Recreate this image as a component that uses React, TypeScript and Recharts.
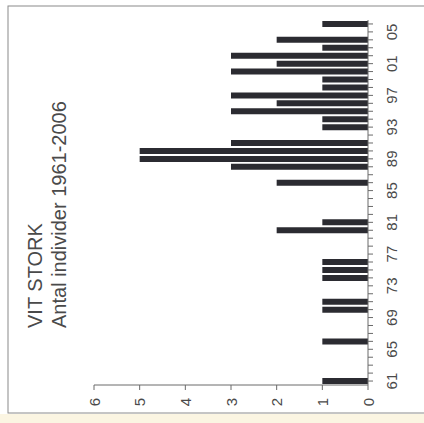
import React from 'react';
import { BarChart, Bar, XAxis, YAxis } from 'recharts';

const years = [
  1961, 1962, 1963, 1964, 1965, 1966, 1967, 1968, 1969, 1970,
  1971, 1972, 1973, 1974, 1975, 1976, 1977, 1978, 1979, 1980,
  1981, 1982, 1983, 1984, 1985, 1986, 1987, 1988, 1989, 1990,
  1991, 1992, 1993, 1994, 1995, 1996, 1997, 1998, 1999, 2000,
  2001, 2002, 2003, 2004, 2005, 2006,
];
const counts = [
  1, 0, 0, 0, 0, 1, 0, 0, 0, 1,
  1, 0, 0, 1, 1, 1, 0, 0, 0, 2,
  1, 0, 0, 0, 0, 2, 0, 3, 5, 5,
  3, 0, 1, 1, 3, 2, 3, 1, 1, 3,
  2, 3, 1, 2, 0, 1,
];
const labeledYears = [1961, 1965, 1969, 1973, 1977, 1981, 1985, 1989, 1993, 1997, 2001, 2005];
const yearTickLabels = ['61', '65', '69', '73', '77', '81', '85', '89', '93', '97', '01', '05'];
const valueTicks = [0, 1, 2, 3, 4, 5, 6];
const titleLine1 = 'VIT STORK';
const titleLine2 = 'Antal individer 1961-2006';

const data = years.map((y, i) => ({ year: y, count: counts[i] }));

const FONT = '"Liberation Sans", Arial, sans-serif';
const TEXT = '#4a4a4a';
const AXIS = '#6a6a6a';

const ValueTick = (props: any) => {
  const { x, y, payload } = props;
  return (
    <text
      transform={`translate(${x},${y + 10}) rotate(-90)`}
      textAnchor="middle"
      dominantBaseline="central"
      fontSize={15}
      fill={TEXT}
      fontFamily={FONT}
    >
      {payload.value}
    </text>
  );
};

const YearTick = (props: any) => {
  const { x, y, payload } = props;
  const idx = labeledYears.indexOf(Number(payload.value));
  if (idx < 0) return <g />;
  return (
    <text
      transform={`translate(${x + 16},${y}) rotate(-90)`}
      textAnchor="middle"
      dominantBaseline="central"
      fontSize={15}
      fill={TEXT}
      fontFamily={FONT}
    >
      {yearTickLabels[idx]}
    </text>
  );
};

export default function App() {
  return (
    <div style={{ position: 'absolute', left: 0, top: 0, width: 424, height: 423, background: '#ffffff', overflow: 'hidden' }}>
      <svg width={424} height={423} style={{ position: 'absolute', left: 0, top: 0 }}>
        <rect x={0} y={414} width={424} height={9} fill="#fbf5e2" />
        <rect x={8} y={6} width={430} height={407} fill="#ffffff" stroke="#8a8a8a" strokeWidth={1} />
      </svg>
      <div style={{ position: 'absolute', left: 0, top: 0 }}>
        <BarChart
          width={424}
          height={423}
          data={data}
          layout="vertical"
          margin={{ top: 20, right: 16, bottom: 8, left: 94 }}
          barSize={6}
        >
          <XAxis
            type="number"
            domain={[0, 6]}
            ticks={valueTicks}
            reversed
            interval={0}
            height={30}
            tickSize={5}
            stroke={AXIS}
            tick={<ValueTick />}
          />
          <YAxis
            type="category"
            dataKey="year"
            orientation="right"
            reversed
            interval={0}
            width={40}
            tickSize={5}
            stroke={AXIS}
            tick={<YearTick />}
          />
          <Bar dataKey="count" fill="#2b2b31" isAnimationActive={false} />
        </BarChart>
      </div>
      <svg width={424} height={423} style={{ position: 'absolute', left: 0, top: 0, pointerEvents: 'none' }}>
        <text
          transform="translate(42,328) rotate(-90)"
          textAnchor="start"
          fontSize={20}
          fill={TEXT}
          fontFamily={FONT}
        >
          {titleLine1}
        </text>
        <text
          transform="translate(66,328) rotate(-90)"
          textAnchor="start"
          fontSize={20}
          fill={TEXT}
          fontFamily={FONT}
        >
          {titleLine2}
        </text>
      </svg>
    </div>
  );
}
